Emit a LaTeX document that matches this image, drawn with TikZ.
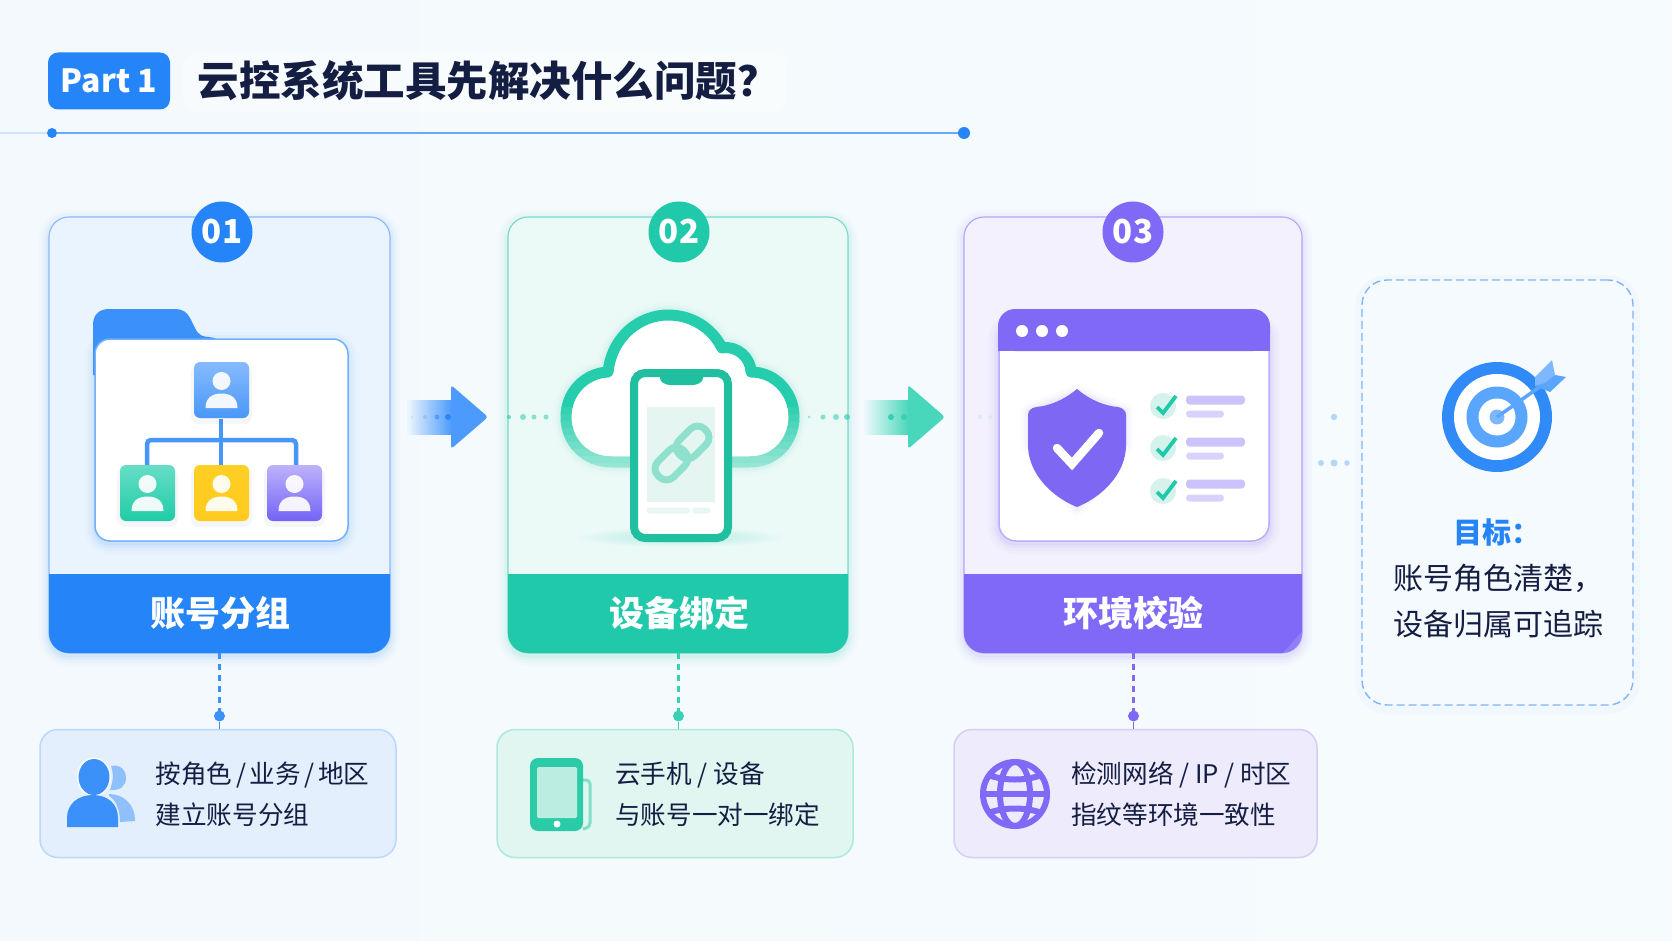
\documentclass[tikz,border=0pt]{standalone}
\usepackage{fontspec}
\setmainfont{Noto Sans CJK SC}
\usetikzlibrary{calc}
\definecolor{bgA}{HTML}{F4F9FD}
\definecolor{bgB}{HTML}{F6FBFE}
\definecolor{cblue}{HTML}{2585F8}
\definecolor{cgreen}{HTML}{21C9AB}
\definecolor{cpurple}{HTML}{8169F8}
\definecolor{cardA}{HTML}{EAF4FE}
\definecolor{cardB}{HTML}{EBF9F7}
\definecolor{cardC}{HTML}{F2F1FD}
\definecolor{lineA}{HTML}{8BBAF8}
\definecolor{lineB}{HTML}{79DBC5}
\definecolor{lineC}{HTML}{B3A7F8}
\definecolor{ink}{HTML}{141D42}
\newcommand{\hx}[1]{\definecolor{h#1}{HTML}{#1}}
\hx{86BBFD}\hx{4A97F7}\hx{66DEC6}\hx{1FCCA6}\hx{FFCF24}\hx{FFCB1E}\hx{BDB2FB}\hx{7463F6}\hx{26CDAD}\hx{1FBFA0}\hx{E5F6F2}\hx{E9F7F4}\hx{8FE1CD}\hx{D5F2EC}\hx{4C9AFB}\hx{48D7BA}\hx{7FB4F8}\hx{F5FAFF}\hx{5AA5FD}\hx{7DB8FC}\hx{E3EFFD}\hx{BBD8FB}\hx{E1F6F1}\hx{ADE9DA}\hx{EEEBFC}\hx{D4CDF8}\hx{3D90F8}\hx{3BD0B3}\hx{7F68F5}\hx{8FC0FB}\hx{7FDFC9}\hx{2CCBA8}\hx{BCEDE1}\hx{A4E9DA}
\newcommand{\fsz}[1]{\fontsize{#1}{#1}\selectfont}
\newcommand{\softglow}[6]{% x1 y1 x2 y2 r colour
  \foreach \wd/\op in {20/.025,14/.035,8/.05,3/.06}{
    \draw[#6,opacity=\op,line width=\wd pt,rounded corners=#5pt] (#1,#2+3) rectangle (#3,#4+3);}}
\tikzset{
  card/.style={rounded corners=20pt,inner sep=0pt,outer sep=0pt,line width=1.1pt,minimum width=#1,minimum height=436pt},
  badge/.style={circle,inner sep=0pt,outer sep=0pt,minimum size=61pt,text=white,font=\bfseries\fsz{33}},
  headtext/.style={text=white,font=\bfseries\fsz{35}},
  notebox/.style={rounded corners=18pt,inner sep=0pt,outer sep=0pt,line width=1.5pt,minimum height=128pt,minimum width=#1},
  notetext/.style={anchor=west,text=ink,font=\fsz{25.6},inner sep=0pt},
  pin/.style={circle,inner sep=0pt,outer sep=0pt,minimum size=10pt},
  dashlink/.style={line width=2.8pt,dash pattern=on 6pt off 5pt},
  thinlink/.style={line width=1.5pt},
  bartext/.style={rounded corners=3.5pt,fill=#1},
  tile/.style={rounded corners=6pt},
}
\newcommand{\persontile}[4]{% x, y, top colour, bottom colour
  \begin{scope}[shift={(#1,#2)}]
    \fill[ink,opacity=.04,rounded corners=8pt] (-3,3) rectangle (58,62);
    \shade[tile,top color=#3,bottom color=#4] (0,0) rectangle (55,56);
    \fill[white,opacity=.92] (27.5,19) circle (9);
    \fill[white,opacity=.92] (11.5,46) .. controls (11.5,36) and (18,31.5) .. (27.5,31.5) .. controls (37,31.5) and (43.5,36) .. (43.5,46) -- cycle;
  \end{scope}}
\def\cloudpath{(612,462) -- (750,462) .. controls (775,462) and (794,442) .. (794,417) .. controls (794,392) and (775,372) .. (751,372) .. controls (751,358) and (737,345) .. (722,348) .. controls (712,328) and (692,315) .. (668,315) .. controls (640,315) and (612,336) .. (608,372) .. controls (585,373) and (566,392) .. (566,417) .. controls (566,442) and (585,462) .. (612,462) -- cycle}
\begin{document}
\begin{tikzpicture}[x=1pt,y=-1pt]
\useasboundingbox (0,0) rectangle (1672,941);
\shade[left color=bgA,right color=bgB] (0,0) rectangle (1672,941);

% ---------- title
\fill[white,opacity=.4,rounded corners=14pt] (183,53) rectangle (787,112);
\node[fill=cblue,rounded corners=10pt,minimum width=122pt,minimum height=57pt,inner sep=0pt,text=white,font=\bfseries\fsz{32}] (part) at (109,81) {Part 1};
\node[anchor=west,inner sep=0pt,text=ink,font=\bfseries\fsz{41.5}] (title) at (197.5,81) {云控系统工具先解决什么问题？};
\node[pin,fill=cblue] (ruleL) at (52,133) {};
\node[pin,fill=cblue,minimum size=12pt] (ruleR) at (964,133) {};
\coordinate (ruleO) at (0,133);
\draw[line width=1.5pt,color=lineA!35!bgA] (ruleO) -- (ruleL);
\draw[line width=2.2pt,color=cblue!70!white] (ruleL) -- (ruleR);

% ---------- cards
\softglow{49}{217}{390}{653}{20}{cblue}
\softglow{508}{217}{848}{653}{20}{cgreen}
\softglow{964}{217}{1302}{653}{20}{cpurple}
\node[card=341pt,fill=cardA,draw=lineA] (c1) at (219.5,435) {};
\node[card=340pt,fill=cardB,draw=lineB] (c2) at (678,435) {};
\node[card=338pt,fill=cardC,draw=lineC] (c3) at (1133,435) {};
\begin{scope}\clip (40,574) rectangle (400,660);
  \fill[cblue,rounded corners=20pt] (49,500) rectangle (390,653);\end{scope}
\begin{scope}\clip (500,574) rectangle (860,660);
  \fill[cgreen,rounded corners=20pt] (508,500) rectangle (848,653);\end{scope}
\begin{scope}\clip (955,574) rectangle (1310,660);
  \fill[cpurple,rounded corners=20pt] (964,500) rectangle (1302,653);
  \begin{scope}\clip[rounded corners=20pt] (964,500) rectangle (1302,653);
    \fill[white,opacity=.14] (1283,653) -- (1305,628) -- (1305,653) -- cycle;\end{scope}
\end{scope}
\node[headtext] (h1) at (220,613) {账号分组};
\node[headtext] (h2) at (679,613) {设备绑定};
\node[headtext] (h3) at (1133,613) {环境校验};
\node[badge,fill=cblue] (b1) at (222,232) {01};
\node[badge,fill=cgreen] (b2) at (679,232) {02};
\node[badge,fill=cpurple] (b3) at (1133,232) {03};

% ---------- folder icon
\softglow{95}{339}{347}{541}{15}{cblue}
\fill[cblue!90!white] (93,375) -- (93,325) .. controls (93,315) and (99,309) .. (109,309) -- (175,309) .. controls (182,309) and (187,312) .. (190,318) -- (196,330) .. controls (199,335) and (203,337) .. (209,337) -- (215,338) -- (215,375) -- cycle;
\fill[white,draw=cblue!65!white,line width=1.5pt,rounded corners=15pt] (95,339) rectangle (348,541);
\draw[cblue!85!white,line width=4.5pt,rounded corners=4pt] (147,465) -- (147,440) -- (296,440) -- (296,465);
\draw[cblue!85!white,line width=4.5pt] (221,419) -- (221,465);
\persontile{194}{362}{h86BBFD}{h4A97F7}
\persontile{120}{465}{h66DEC6}{h1FCCA6}
\persontile{194}{465}{hFFCF24}{hFFCB1E}
\persontile{267}{465}{hBDB2FB}{h7463F6}

% ---------- cloud and phone icon
\shade[inner color=cgreen!30!cardB,outer color=cardB] (680,537) ellipse (105 and 10);
\foreach \wd/\op in {26/.02,20/.03,16/.04}{\draw[cgreen,opacity=\op,line width=\wd pt,line join=round] \cloudpath;}
\fill[white] \cloudpath;
\begin{scope}\clip (540,300) rectangle (820,400);
  \draw[color=h26CDAD,line width=11pt,line join=round] \cloudpath;\end{scope}
\foreach \i in {0,...,10}{
  \pgfmathsetmacro{\ya}{400+7*\i}\pgfmathsetmacro{\yb}{\ya+7.5}\pgfmathsetmacro{\mx}{100-10*\i}
  \begin{scope}\clip (540,\ya) rectangle (820,\yb);
    \draw[color=h26CDAD!\mx!hA4E9DA,line width=11pt,line join=round] \cloudpath;\end{scope}}
\fill[white,draw=h1FBFA0,line width=8pt,rounded corners=11pt] (634,373) rectangle (728,538);
\fill[h1FBFA0,rounded corners=3pt] (660,370) -- (660,381) -- (667,385) -- (696,385) -- (703,381) -- (703,370) -- cycle;
\fill[hE5F6F2] (647,407) rectangle (715,502);
\fill[hE9F7F4,rounded corners=2.5pt] (647,507.5) rectangle (690,513.5);
\fill[hE9F7F4,rounded corners=2.5pt] (692,507.5) rectangle (710,513.5);
\begin{scope}[shift={(682,453)},rotate=45]
  \draw[color=h8FE1CD,line width=7pt,rounded corners=10pt] (-33,-11) rectangle (3,11);
  \draw[color=h8FE1CD,line width=7pt,rounded corners=10pt] (-3,-11) rectangle (33,11);
\end{scope}

% ---------- window icon
\softglow{998}{320}{1270}{541}{17}{cpurple}
\fill[white,draw=cpurple!55!white,line width=1.5pt,rounded corners=17pt] (999,330) rectangle (1269,541);
\fill[cpurple,rounded corners=17pt] (998,351) -- (998,309) -- (1270,309) -- (1270,351) -- cycle;
\fill[cpurple] (998,335) rectangle (1270,351);
\foreach \x in {1022,1042,1062}{\fill[white] (\x,331) circle (6);}
\foreach \wd/\op in {14/.03,8/.04,3/.05}{\draw[cpurple,opacity=\op,line width=\wd pt,line join=round] (1077,392) -- (1126,411) -- (1126,445) -- (1077,509) -- (1028,445) -- (1028,411) -- cycle;}
\fill[cpurple!98!black] (1077,389) .. controls (1090,400) and (1105,406) .. (1118,407) .. controls (1123,408) and (1126,411) .. (1126,415) -- (1126,445) .. controls (1126,475) and (1100,498) .. (1077,507) .. controls (1054,498) and (1028,475) .. (1028,445) -- (1028,415) .. controls (1028,411) and (1031,408) .. (1036,407) .. controls (1049,406) and (1064,400) .. (1077,389) -- cycle;
\draw[white,line width=8.5pt,line cap=round,line join=miter] (1057,448) -- (1072,464) -- (1099,433);
\foreach \y/\ya/\yb in {406/400/414,448/442/456,491/484/498}{
  \fill[hD5F2EC] (1163,\y) circle (13);
  \draw[cgreen,line width=3.8pt,line join=miter] (1157,\y+1) -- (1163,\y+7) -- (1176,\y-10);
  \fill[bartext=cpurple!40!white] (1186,\ya-4.5) rectangle (1245,\ya+4.5);
  \fill[bartext=cpurple!30!white] (1186,\yb-3.5) rectangle (1224,\yb+3.5);
}

% ---------- arrows and dots
\shade[left color=bgB,right color=h4C9AFB] (405,400) rectangle (452,434);
\fill[h4C9AFB,rounded corners=3pt] (451,385) -- (488,417) -- (451,449) -- cycle;
\foreach \x/\r/\o in {412/1.5/.1,425/2/.2,437/2.5/.5,448/3/.9}{\fill[cblue,opacity=\o] (\x,417) circle (\r);}
\shade[left color=bgB,right color=h48D7BA] (862,400) rectangle (909,434);
\fill[h48D7BA,rounded corners=3pt] (908,385) -- (945,417) -- (908,449) -- cycle;
\foreach \x/\r/\o in {891/3/.8,904/3/.6}{\fill[cgreen,opacity=\o] (\x,417) circle (\r);}
\foreach \x/\r/\o in {509/2/.6,523/3/.5,534/2.5/.5,546/2.5/.5,809/1.5/.4,823/2.5/.5,836/3/.5,847/3/.6}{\fill[cgreen,opacity=\o] (\x,417) circle (\r);}
\foreach \x/\y/\r/\o in {980/417/2.5/.08,990/417/2/.05,1334/417/3.2/.3,1321/463/3/.3,1334/463/3.5/.3,1347/463/2.8/.3}{\fill[cblue,opacity=\o] (\x,\y) circle (\r);}

% ---------- goal panel
\draw[cblue,opacity=.02,line width=14pt,rounded corners=25pt] (1362,282) rectangle (1633,707);
\node[rounded corners=25pt,draw=h7FB4F8,line width=1.4pt,dash pattern=on 8pt off 4pt,fill=hF5FAFF,minimum width=271pt,minimum height=425pt,inner sep=0pt] (goal) at (1497.5,492.5) {};
\fill[cblue!95!white] (1497,417) circle (55);
\fill[white] (1497,417) circle (43);
\fill[h5AA5FD] (1497,417) circle (30.5);
\fill[white] (1497,417) circle (18.5);
\fill[h7DB8FC] (1497,417) circle (7.5);
\draw[h5AA5FD,line width=3.5pt] (1497,417) -- (1541,386);
\fill[h7DB8FC] (1535,377) -- (1552,360) -- (1555,375) -- (1545,385) -- (1535,386) -- cycle;
\fill[h5AA5FD] (1555,375) -- (1566,377) -- (1550,392) -- (1535,386) -- (1545,383) -- cycle;
\node[text=cblue,font=\bfseries\fsz{29},inner sep=0pt] (gh) at (1497,532) {目标：};
\node[anchor=west,text=ink,font=\fsz{30},inner sep=0pt] (g1) at (1393,578) {账号角色清楚，};
\node[anchor=west,text=ink,font=\fsz{30},inner sep=0pt] (g2) at (1393,624) {设备归属可追踪};

% ---------- note boxes
\node[notebox=356pt,fill=hE3EFFD,draw=hBBD8FB] (n1) at (218,793.5) {};
\node[notebox=356pt,fill=hE1F6F1,draw=hADE9DA] (n2) at (675,793.5) {};
\node[notebox=363pt,fill=hEEEBFC,draw=hD4CDF8] (n3) at (1135.5,793.5) {};
\node[pin,fill=h3D90F8,minimum size=11pt] (p1) at (219.5,716) {};
\node[pin,fill=h3BD0B3,minimum size=11pt] (p2) at (678.5,716) {};
\node[pin,fill=h7F68F5,minimum size=11pt] (p3) at (1133.5,716) {};
\coordinate (c1s) at (219.5,653); \coordinate (c2s) at (678.5,653); \coordinate (c3s) at (1133.5,653);
\coordinate (n1n) at (219.5,729); \coordinate (n2n) at (678.5,729); \coordinate (n3n) at (1133.5,729);
\draw[dashlink,h3D90F8] (c1s) -- (p1);
\draw[dashlink,h3BD0B3] (c2s) -- (p2);
\draw[dashlink,h7F68F5] (c3s) -- (p3);
\draw[thinlink,h3D90F8] (p1) -- (n1n);
\draw[thinlink,h3BD0B3] (p2) -- (n2n);
\draw[thinlink,h7F68F5] (p3) -- (n3n);
\node[notetext] (t1a) at (155.5,775) {\spaceskip=.14em 按角色 / 业务 / 地区};
\node[notetext] (t1b) at (155.5,815) {建立账号分组};
\node[notetext] (t2a) at (615,775) {云手机 / 设备};
\node[notetext] (t2b) at (615,815) {与账号一对一绑定};
\node[notetext] (t3a) at (1071,775) {检测网络 / IP / 时区};
\node[notetext] (t3b) at (1071,815) {指纹等环境一致性};

% person pair icon
\fill[h8FC0FB] (111,766) .. controls (120,764) and (126,770) .. (126,778) .. controls (126,786) and (120,791) .. (110,790) .. controls (113,782) and (114,774) .. (111,766) -- cycle;
\fill[h8FC0FB] (109,794) .. controls (124,794) and (135,805) .. (135,820) -- (135,821) -- (120,822) .. controls (120,810) and (116,800) .. (109,796) -- cycle;
\fill[white] (94,777) ellipse (17 and 19.5);
\fill[cblue!90!white] (94,777) ellipse (15.5 and 18);
\fill[cblue!90!white] (67,827) -- (67,818) .. controls (67,804) and (78,795) .. (93,795) .. controls (108,795) and (118,804) .. (118,818) -- (118,827) -- cycle;

% phone icon
\draw[h7FDFC9,line width=3pt,rounded corners=4pt] (583,780) -- (590,780) -- (590,827) -- (583,829);
\fill[h2CCBA8,rounded corners=8pt] (530,758) rectangle (583,831);
\fill[hBCEDE1,rounded corners=1.5pt] (537,767) rectangle (577,818);
\fill[white] (557,824) circle (3.5);

% globe icon
\begin{scope}[shift={(1015,794)},cpurple,line width=6pt]
  \draw (0,0) circle (32);
  \draw (0,0) ellipse (15 and 32);
  \draw (-32,0) -- (32,0);
  \draw (-27,-19) .. controls (-10,-13) and (10,-13) .. (27,-19);
  \draw (-27,19) .. controls (-10,13) and (10,13) .. (27,19);
\end{scope}
\end{tikzpicture}
\end{document}
